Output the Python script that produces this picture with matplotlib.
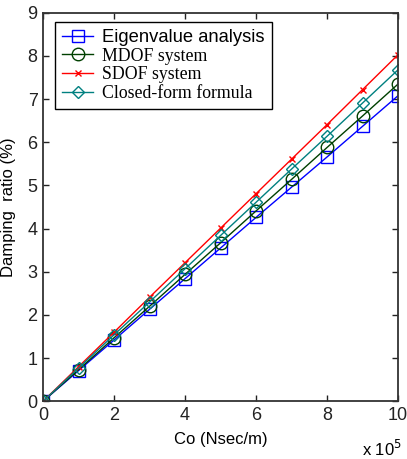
import matplotlib.pyplot as plt
from matplotlib.ticker import MultipleLocator

# damper coefficient in units of 1e5 N sec/m
co = [0, 1, 2, 3, 4, 5, 6, 7, 8, 9, 10]

eigen = [0, 0.71, 1.42, 2.13, 2.84, 3.55, 4.26, 4.96, 5.66, 6.37, 7.08]
mdof = [0, 0.73, 1.47, 2.20, 2.94, 3.67, 4.41, 5.14, 5.88, 6.61, 7.35]
sdof = [0, 0.80, 1.60, 2.41, 3.21, 4.01, 4.81, 5.61, 6.41, 7.22, 8.03]
closed = [0, 0.77, 1.54, 2.30, 3.07, 3.84, 4.61, 5.38, 6.14, 6.91, 7.68]

sans = 'Liberation Sans'
serif = 'Liberation Serif'

fig = plt.figure(figsize=(4.07, 4.59), dpi=100)
ax = fig.add_axes([0.106, 0.126, 0.872, 0.846])

l1, = ax.plot(co, eigen, color='#0000ff', lw=1, marker='s', ms=8, mfc='none', mew=1)
l2, = ax.plot(co, mdof, color='#004000', lw=1, marker='o', ms=9, mfc='none', mew=1)
l3, = ax.plot(co, sdof, color='#ff0000', lw=1, marker='x', ms=5, mew=1)
l4, = ax.plot(co, closed, color='#008080', lw=1, marker='D', ms=6, mfc='none', mew=1)

ax.set_xlim(0, 10)
ax.set_ylim(0, 9)
ax.xaxis.set_major_locator(MultipleLocator(2))
ax.yaxis.set_major_locator(MultipleLocator(1))
ax.tick_params(direction='in', top=True, right=True, length=4, width=1,
               labelsize=13, pad=4, colors='#222222')
for lab in ax.get_xticklabels() + ax.get_yticklabels():
    lab.set_family(sans)
for s in ax.spines.values():
    s.set_linewidth(1.3)
    s.set_color('#333333')

ax.set_xlabel('Co (Nsec/m)', family=sans, fontsize=12, labelpad=6)
ax.set_ylabel('Damping  ratio (%)', family=sans, fontsize=12, labelpad=8)
fig.text(0.89, 0.006, r'x 10$^5$', family=sans, fontsize=12)

leg = ax.legend([l1, l2, l3, l4],
                ['Eigenvalue analysis', 'MDOF system', 'SDOF system', 'Closed-form formula'],
                loc='upper left', bbox_to_anchor=(0.034, 0.977), borderaxespad=0,
                fancybox=False, edgecolor='black', framealpha=1, borderpad=0.4,
                labelspacing=0.1, handlelength=1.75, handletextpad=0.5,
                prop={'family': serif, 'size': 12.8})
leg.get_frame().set_linewidth(1)
leg.get_texts()[0].set_family(sans)
leg.get_texts()[0].set_fontsize(13.2)

fig.savefig('out.png', dpi=100)
